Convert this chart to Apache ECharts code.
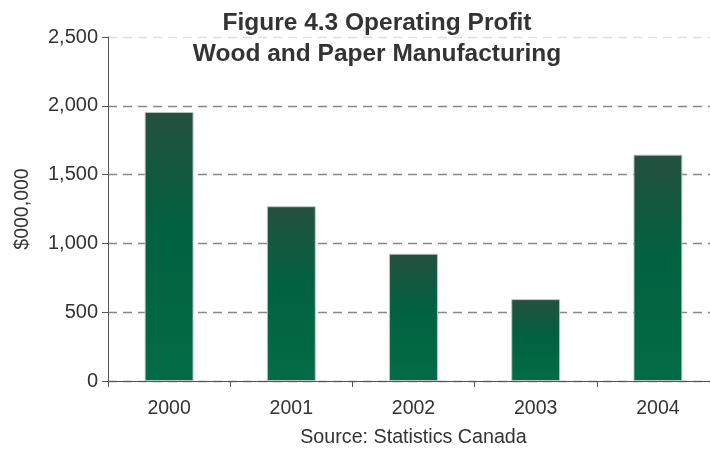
<!DOCTYPE html>
<html>
<head>
<meta charset="utf-8">
<script src="https://cdn.jsdelivr.net/npm/echarts@6/dist/echarts.min.js"></script>
<style>
  html, body { margin: 0; padding: 0; background: #fff; }
  #chart { width: 710px; height: 458px; }
</style>
</head>
<body>
<div id="chart"></div>
<script>
// values, $000,000
const years = ['2000', '2001', '2002', '2003', '2004'];
const profit = [1955, 1270, 925, 595, 1645];
const yTicks = [0, 500, 1000, 1500, 2000, 2500];

const chart = echarts.init(document.getElementById('chart'), null, { renderer: 'canvas' });

const font = '"Liberation Sans", Arial, sans-serif';

chart.setOption({
  animation: false,
  title: {
    text: 'Figure 4.3 Operating Profit\nWood and Paper Manufacturing',
    left: 372,
    top: 3,
    textAlign: 'center',
    textStyle: { fontFamily: font, fontSize: 24.5, fontWeight: 'bold', color: '#333', lineHeight: 31 }
  },
  // plot runs a little past the right edge of the window, like the original
  grid: { left: 108, width: 611, top: 37, bottom: 77, outerBoundsMode: 'none', containLabel: false },
  xAxis: {
    type: 'category',
    data: years,
    name: 'Source: Statistics Canada',
    nameLocation: 'middle',
    nameGap: 47,
    nameTextStyle: { fontFamily: font, fontSize: 19.7, color: '#333' },
    axisLine: { lineStyle: { color: '#555', width: 1 } },
    axisTick: { show: true, length: 6, lineStyle: { color: '#555' } },
    axisLabel: { fontFamily: font, fontSize: 19.5, color: '#333', margin: 18 }
  },
  yAxis: {
    type: 'value',
    min: yTicks[0],
    max: yTicks[yTicks.length - 1],
    interval: 500,
    name: '$000,000',
    nameLocation: 'middle',
    nameGap: 75,
    nameTextStyle: { fontFamily: font, fontSize: 19.5, color: '#333' },
    axisLine: { show: true, lineStyle: { color: '#555', width: 1 } },
    axisTick: { show: true, length: 6, lineStyle: { color: '#555' } },
    axisLabel: {
      fontFamily: font, fontSize: 20, color: '#333', margin: 10,
      formatter: v => v.toLocaleString('en-US')
    },
    splitLine: {
      show: true,
      lineStyle: {
        color: ['#888', '#888', '#888', '#888', '#888', '#e0e0e0'],
        type: [9, 6],
        width: 1.3
      }
    }
  },
  series: [{
    type: 'bar',
    data: profit,
    barWidth: '40%',
    itemStyle: {
      borderColor: 'rgba(190,200,195,0.9)',
      borderWidth: 1,
      color: new echarts.graphic.LinearGradient(0, 0, 0, 1, [
        { offset: 0, color: '#25503f' },
        { offset: 0.45, color: '#016140' },
        { offset: 1, color: '#036c46' }
      ])
    }
  }]
});
</script>
</body>
</html>
